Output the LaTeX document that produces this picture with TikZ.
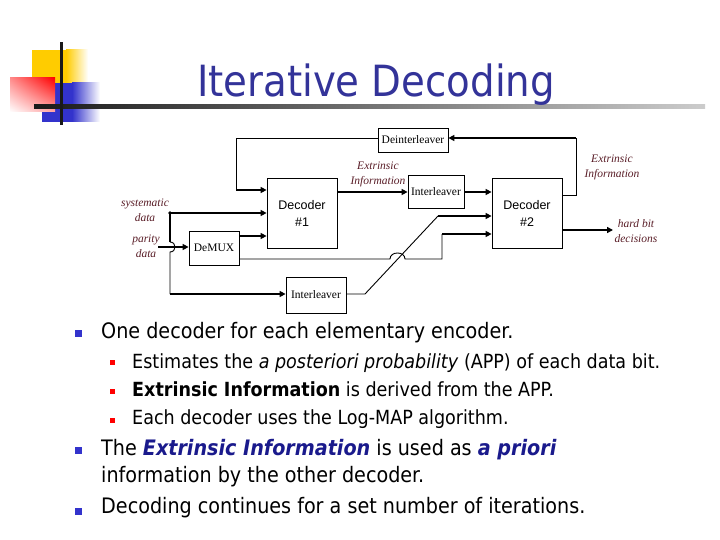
\documentclass[tikz,border=0pt]{standalone}
\usepackage{fontspec}
\usetikzlibrary{arrows.meta,shadings}
\newfontfamily\tah{DejaVu Sans Condensed}
\newfontfamily\arl{Liberation Sans}
\newfontfamily\tms{Liberation Serif}
\definecolor{titleblue}{HTML}{333399}
\definecolor{lab}{HTML}{5A1E28}
\definecolor{bblue}{HTML}{3333CC}
\definecolor{navy}{HTML}{1A1A8C}
\definecolor{logoyel}{HTML}{FFCC00}
\begin{document}
\begin{tikzpicture}[x=1pt,y=-1pt,
  box/.style={draw,line width=0.8pt,inner sep=0pt,font=\tms\fontsize{11.5}{13}\selectfont},
  dec/.style={draw,line width=0.8pt,inner sep=0pt,minimum width=70pt,minimum height=70pt,align=center,font=\arl\fontsize{12.5}{17}\selectfont},
  lbl/.style={align=center,text=lab,font=\tms\itshape\fontsize{11.5}{15}\selectfont,inner sep=0pt},
  thk/.style={line width=2.3pt},
  thn/.style={line width=0.9pt},
  arr/.style={-{Triangle[length=6pt,width=6pt]}},
  mainbul/.style={anchor=base west,inner sep=0pt,font=\tah\fontsize{21.3}{25}\selectfont},
  subbul/.style={anchor=base west,inner sep=0pt,font=\tah\fontsize{19.5}{23}\selectfont}
]
\fill[white] (0,0) rectangle (720,540);
\useasboundingbox (0,0) rectangle (720,540);

% logo
\fill[logoyel] (32,50) rectangle (66,83);
\shade[left color=logoyel, right color=white] (66,50) rectangle (88,83);
\fill[bblue] (42,83) rectangle (72,122);
\shade[left color=bblue, right color=white] (72,83) rectangle (100,122);
\shade[upper right=red, upper left=red!45!white, lower right=red!35!white, lower left=white] (10,78) rectangle (55,112);
\shade[left color=black!90, right color=black!20] (34,105) rectangle (705,109);
\fill[black!90] (59.5,42) rectangle (62.5,125);

% title
\node[anchor=base, inner sep=0pt, text=titleblue, font=\tah\fontsize{43}{50}\selectfont] (title) at (376,97) {Iterative Decoding};

% boxes
\node[box, minimum width=70pt, minimum height=24pt] (deint) at (413,140) {Deinterleaver};
\node[dec] (dec1) at (302,213) {Decoder\\\#1};
\node[dec] (dec2) at (527,213) {Decoder\\\#2};
\node[box, minimum width=56pt, minimum height=33pt] (int1) at (436,191.5) {Interleaver};
\node[box, minimum width=60pt, minimum height=36pt] (int2) at (316,295) {Interleaver};
\node[box, minimum width=50pt, minimum height=34pt] (demux) at (214,248) {DeMUX};

% labels
\node[lbl] (ext1) at (378,174.5) {Extrinsic\\Information};
\node[lbl] (ext2) at (612,167.5) {Extrinsic\\Information};
\node[lbl] (hardl) at (636,231.5) {hard bit\\decisions};
\node[lbl] (sysl) at (145,210.5) {systematic\\data};
\node[lbl] (parl) at (146,246.5) {parity\\data};

% helper coordinates
\coordinate (fbR) at (576,138);
\coordinate (r195) at (0,195);
\coordinate (r230) at (0,230);
\coordinate (hard) at (613,230);
\coordinate (fbL) at (236,138);
\coordinate (fbLb) at (236,190);
\coordinate (sysS) at (170,213);
\coordinate (parS) at (158,247);
\coordinate (hopT) at (170,242);
\coordinate (hopB) at (170,252);
\coordinate (vBot) at (170,294);
\coordinate (r236) at (0,236);
\coordinate (r259) at (0,259);
\coordinate (r192) at (0,192);
\coordinate (h1) at (390,259);
\coordinate (h2) at (405,259);
\coordinate (dmB) at (442,259);
\coordinate (dmT) at (442,234);
\coordinate (i2o) at (365,294);
\coordinate (diagT) at (438,216);

% feedback from decoder 2 to deinterleaver
\draw[thn] (dec2.east |- r195) -- (fbR |- r195) -- (fbR);
\draw[thk,arr] (fbR) -- (fbR -| deint.east);
% deinterleaver to decoder 1
\draw[thn] (fbL -| deint.west) -- (fbL) -- (fbLb);
\draw[thk,arr] (fbLb) -- (fbLb -| dec1.west);
% systematic data
\draw[thk,arr] (sysS) -- (sysS -| dec1.west);
\fill (sysS) circle (1.8);
\draw[thk] (sysS) -- (hopT);
\draw[thn] (hopT) .. controls (176.7,242) and (176.7,252) .. (hopB) -- (vBot);
\draw[thk,arr] (vBot) -- (vBot -| int2.west);
% parity data
\draw[thk,arr] (parS) -- (parS -| demux.west);
% demux outputs
\draw[thk,arr] (demux.east |- r236) -- (dec1.west |- r236);
\draw[thn] (demux.east |- r259) -- (h1) .. controls (390,251) and (405,251) .. (h2) -- (dmB) -- (dmT);
\draw[thk,arr] (dmT) -- (dmT -| dec2.west);
% decoder 1 to interleaver 1
\draw[thk,arr] (dec1.east |- r192) -- (int1.west |- r192);
\draw[thk,arr] (int1.east |- r192) -- (dec2.west |- r192);
% interleaver 2 to decoder 2
\draw[thn] (int2.east |- i2o) -- (i2o) -- (diagT);
\draw[thk,arr] (diagT) -- (diagT -| dec2.west);
% hard decisions
\draw[thk,arr] (dec2.east |- r230) -- (hard);

% bullets
\fill[bblue] (75,329.5) rectangle (82,336.5);
\fill[bblue] (75,446.5) rectangle (82,453.5);
\fill[bblue] (75,507.5) rectangle (82,514.5);
\fill[red] (110,360) rectangle (115,365);
\fill[red] (110,389) rectangle (115,394);
\fill[red] (110,417.5) rectangle (115,422.5);

\node[mainbul] (t1) at (101,338) {One decoder for each elementary encoder.};
\node[subbul] (t2) at (132,368) {Estimates the \textit{a posteriori probability} (APP) of each data bit.};
\node[subbul] (t3) at (132,396) {\textbf{Extrinsic Information} is derived from the APP.};
\node[subbul] (t4) at (132,424) {Each decoder uses the Log-MAP algorithm.};
\node[mainbul] (t5) at (101,455) {The \textcolor{navy}{\textbf{\textit{Extrinsic Information}}} is used as \textcolor{navy}{\textbf{\textit{a priori}}}};
\node[mainbul] (t6) at (101,482) {information by the other decoder.};
\node[mainbul] (t7) at (101,513) {Decoding continues for a set number of iterations.};
\end{tikzpicture}
\end{document}
